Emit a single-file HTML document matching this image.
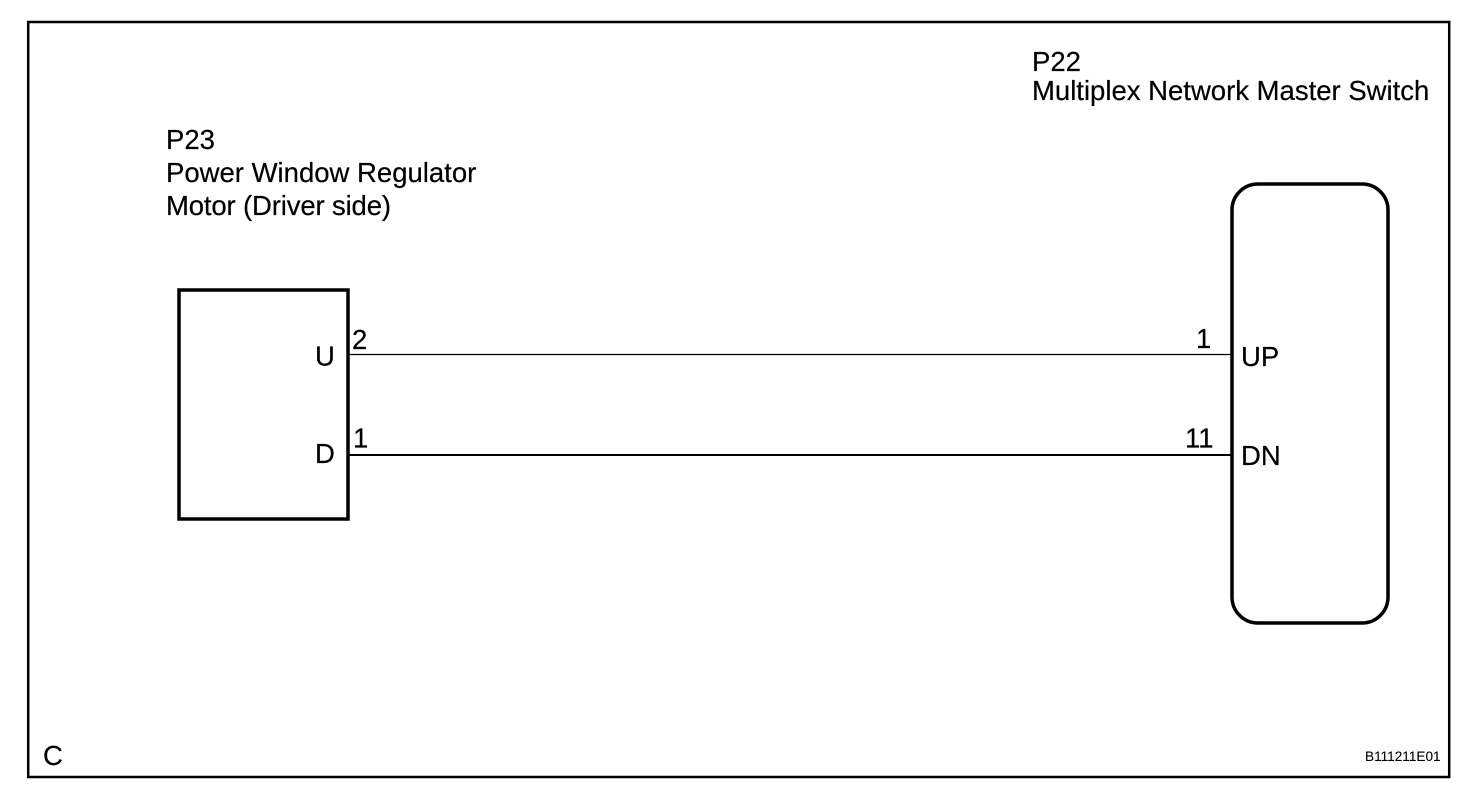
<!DOCTYPE html>
<html>
<head>
<meta charset="utf-8">
<style>
html,body{margin:0;padding:0;background:#fff;width:1472px;height:796px;overflow:hidden}
svg{display:block}
text{font-family:"Liberation Sans",Arial,sans-serif;font-size:27.5px;fill:#000;stroke:#000;stroke-width:.2px}
</style>
</head>
<body>
<svg width="1472" height="796" viewBox="0 0 1472 796" xmlns="http://www.w3.org/2000/svg">
<rect x="28.200" y="22" width="1421" height="755" fill="none" stroke="#000" stroke-width="2.500"/>
<rect x="179" y="290" width="169" height="229" fill="none" stroke="#000" stroke-width="3.500"/>
<rect x="1232" y="184" width="156" height="439" rx="26" ry="26" fill="none" stroke="#000" stroke-width="3.500"/>
<line x1="348" y1="354.500" x2="1232" y2="354.500" stroke="#000" stroke-width="1.300"/>
<line x1="348" y1="455" x2="1232" y2="455" stroke="#000" stroke-width="2"/>
<text x="1032" y="71">P22</text>
<text x="1032" y="100">Multiplex Network Master Switch</text>
<text x="166" y="149">P23</text>
<text x="166" y="182">Power Window Regulator</text>
<text x="166" y="215" textLength="225" lengthAdjust="spacing">Motor (Driver side)</text>
<text x="315" y="365.500">U</text>
<text x="315" y="463">D</text>
<text x="352" y="349">2</text>
<text x="353" y="447.500">1</text>
<text x="1196" y="348">1</text>
<text x="1185" y="447.500">11</text>
<text x="1241" y="366">UP</text>
<text x="1241" y="465">DN</text>
<text x="43" y="765">C</text>
<text x="1365" y="761" style="font-size:13.600px;stroke-width:.1px">B111211E01</text>
</svg>
</body>
</html>
